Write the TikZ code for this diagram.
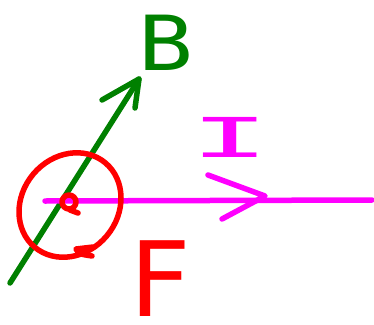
\documentclass[tikz,border=0pt]{standalone}
\usepackage{fontspec}
\setmainfont{DejaVu Sans Mono}
\definecolor{pgreen}{RGB}{0,128,0}
\definecolor{pmag}{RGB}{255,0,255}
\definecolor{pred}{RGB}{255,0,0}
\begin{document}
\begin{tikzpicture}[x=1pt,y=-1pt,
  stroke/.style={line width=5.5pt,line cap=round,line join=round},
  lbl/.style={inner sep=0pt,anchor=base}]
\useasboundingbox (0,0) rectangle (374,324);
% green field B
\coordinate (g0) at (10,283);
\coordinate (g1) at (139,79);
\coordinate (gh1) at (102,100);
\coordinate (gh2) at (135,108);
\draw[stroke,pgreen] (g0) -- (g1);
\draw[stroke,pgreen] (gh1) -- (g1) -- (gh2);
\node[lbl,text=pgreen,xscale=1.2] (B) at (166,70) {\fontsize{76}{76}\selectfont B};
% magenta current I
\coordinate (m0) at (45,201);
\coordinate (m1) at (372,200);
\coordinate (mh0) at (208,175);
\coordinate (mh1) at (265,196);
\coordinate (mh2) at (222,219);
\draw[stroke,pmag] (m0) -- (m1);
\draw[stroke,pmag] (mh0) -- (mh1) -- (mh2);
\node[lbl,text=pmag,xscale=2.4] (I) at (230,157) {\fontsize{55}{55}\selectfont I};
% red force
\coordinate (c0) at (70,205);
\draw[stroke,pred] (c0) ellipse[x radius=55,y radius=48,rotate=50];
\coordinate (t0) at (93,247);
\coordinate (t1) at (76,249);
\coordinate (t2) at (92,256);
\draw[stroke,pred] (t0) -- (t1) .. controls (79,254) .. (t2);
\coordinate (s0) at (69,202);
\draw[stroke,pred] (s0) circle[radius=7];
\coordinate (s1) at (70,210);
\coordinate (s2) at (78,213);
\draw[stroke,pred] (s1) -- (s2);
\node[lbl,text=pred] (F) at (160,316) {\fontsize{104}{104}\selectfont F};
\end{tikzpicture}
\end{document}
